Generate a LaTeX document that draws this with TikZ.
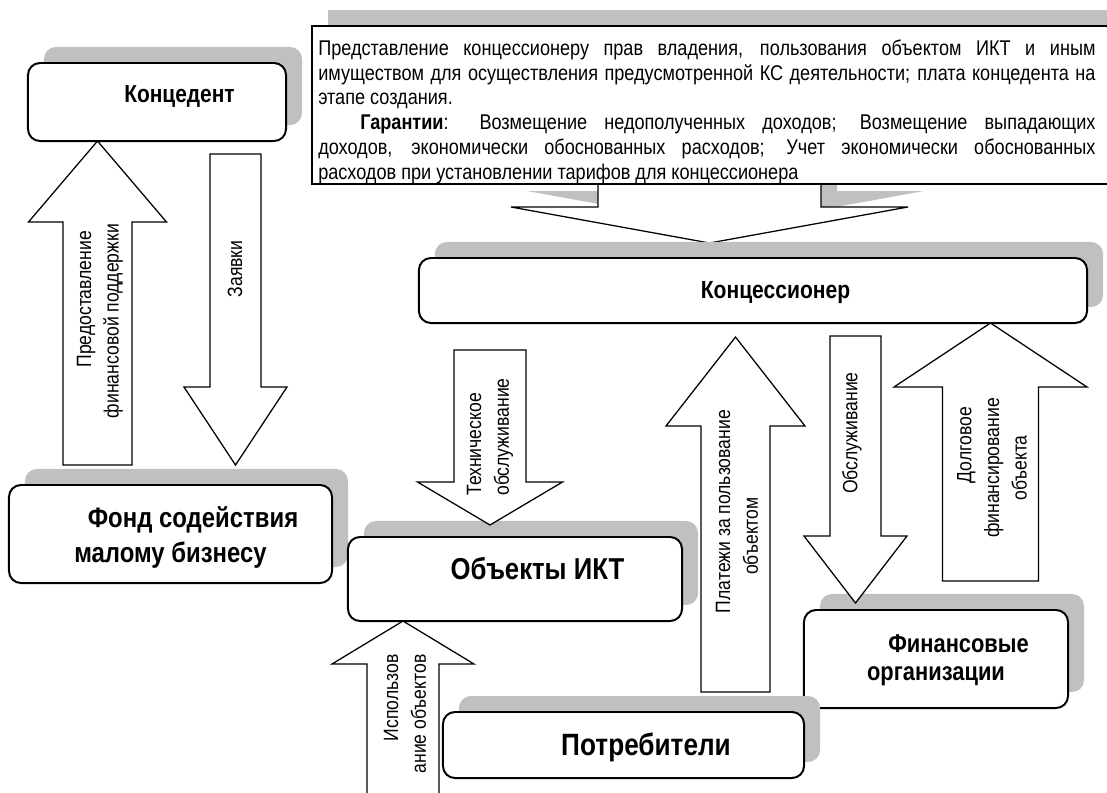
\documentclass[tikz,border=0pt]{standalone}
\usepackage{fontspec}
\setmainfont{Liberation Sans}[FakeStretch=0.85]
\usetikzlibrary{shadows}
\definecolor{shgray}{RGB}{192,192,192}
\newcommand{\blkarrow}[7][]{%
  \draw[barrow,#1] (#2-#3,#5) -- (#2-#3,#6) -- (#2-#4,#6) -- (#2,#7) -- (#2+#4,#6) -- (#2+#3,#6) -- (#2+#3,#5) -- cycle;}
\begin{document}
\begin{tikzpicture}[x=0.025cm,y=-0.025cm,
  shad/.style={general shadow={fill=shgray, shadow xshift=0.4cm, shadow yshift=0.4cm}},
  box/.style={shad, draw, line width=1.4pt, fill=white, rounded corners=0.3cm, inner sep=0pt, align=center},
  barrow/.style={draw, line width=0.9pt, fill=white, line join=miter},
  alabel/.style={rotate=90, font=\fontsize{14.7}{19.6}\selectfont, inner sep=0pt}
]
\useasboundingbox (0,0) rectangle (1107,792);
\fill[white] (0,0) rectangle (1107,792);

% big arrow under the top box
\blkarrow[shad]{709.5}{111.5}{198.5}{120}{207}{243}

% top box
\node[shad, draw, line width=1.4pt, fill=white, rectangle, inner sep=0pt, anchor=north west,
      minimum width=20.1cm, minimum height=3.95cm] (tb) at (311,25) {};
\node[anchor=north west, inner sep=0pt, text width=19.425cm, align=justify,
      font=\fontsize{15.15}{17.6}\selectfont] (tt) at (318,39.5)
 {Представление концессионеру прав владения, пользования объектом ИКТ и иным\linebreak
  имуществом для осуществления предусмотренной КС деятельности; плата концедента на\linebreak
  этапе создания.\par
  \hspace*{1.05cm}\textbf{Гарантии}: Возмещение недополученных доходов; Возмещение выпадающих\linebreak
  доходов, экономически обоснованных расходов; Учет экономически обоснованных\linebreak
  расходов при установлении тарифов для концессионера};

% boxes
\node[box, minimum width=6.45cm, minimum height=1.95cm, text height=0.3cm, text depth=0.3cm,
      font=\bfseries\fontsize{17.5}{19}\selectfont] (kond) at (157,102) {\hspace*{1.125cm}Концедент};
\node[box, minimum width=8.075cm, minimum height=2.45cm, text height=1.6cm, text depth=0.2cm,
      font=\bfseries\fontsize{20}{24.9}\selectfont] (fond) at (170.5,534) {\hspace*{1.125cm}Фонд содействия\\малому бизнесу};
\node[box, minimum width=8.35cm, minimum height=2.1cm, text height=0.35cm, text depth=0.33cm,
      font=\bfseries\fontsize{21.5}{23}\selectfont] (obj) at (515,579) {\hspace*{1.125cm}Объекты ИКТ};
\node[box, minimum width=16.7cm, minimum height=1.625cm, text height=0.6cm, text depth=0.2cm,
      font=\bfseries\fontsize{17.6}{19}\selectfont] (konc) at (753,290.5) {\hspace*{1.125cm}Концессионер};
\node[box, minimum width=6.6cm, minimum height=2.45cm, text height=1.25cm, text depth=0.2cm,
      font=\bfseries\fontsize{18.3}{19.9}\selectfont] (fin) at (936,659) {\hspace*{1.125cm}Финансовые\\организации};
\node[box, minimum width=9.025cm, minimum height=1.65cm, text height=0.65cm, text depth=0.15cm,
      font=\bfseries\fontsize{21.9}{23}\selectfont] (potr) at (623.5,745) {\hspace*{1.125cm}Потребители};

% block arrows
\blkarrow{97.5}{34.5}{69}{465}{222}{141}
\blkarrow{235.5}{25.5}{51.5}{154}{387}{465}
\blkarrow{490}{36}{72.5}{350}{482}{525}
\blkarrow{735.5}{34.5}{69.5}{692}{426}{337}
\blkarrow{403}{36}{71}{800}{664}{621}
\blkarrow{855.5}{25.5}{51.5}{336}{536}{603}
\blkarrow{990.5}{48}{96.5}{581}{387}{323}

% arrow labels
\node[alabel, align=right] (l1) at (100,321) {Предоставление\hspace*{0.175cm}\\финансовой поддержки};
\node[alabel] (l2) at (235,269) {Заявки};
\node[alabel, align=left] (l3) at (490,437) {Техническое\\обслуживание};
\node[alabel, align=left] (l4) at (737,511.5) {Платежи за пользование\\\hspace*{0.95cm}объектом};
\node[alabel, align=right] (l5) at (405,714) {Использов\\ание объектов};
\node[alabel] (l6) at (852,433) {Обслуживание};
\node[alabel, align=center] (l7) at (992,468) {\hspace*{1.15cm}Долговое\\финансирование\\объекта};
\end{tikzpicture}
\end{document}
